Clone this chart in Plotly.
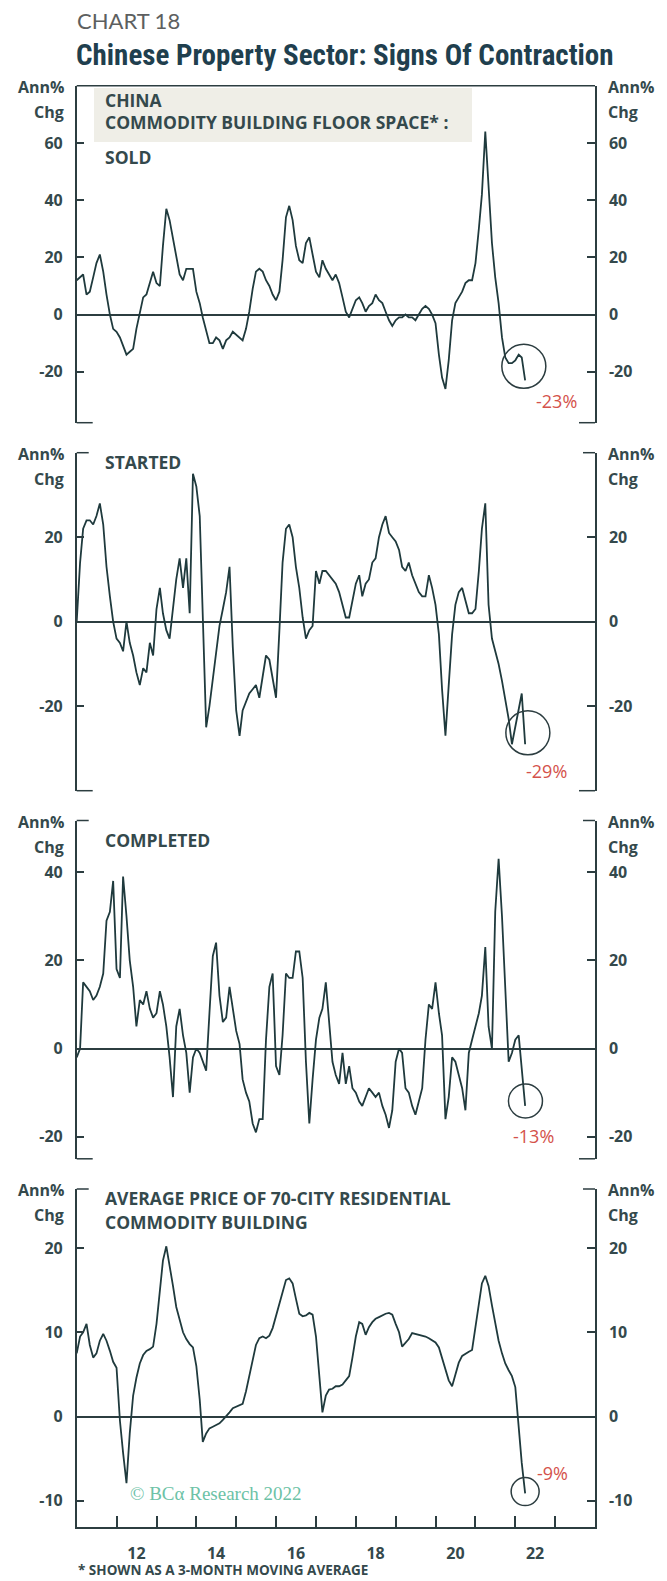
import plotly.graph_objects as go
import pandas as pd

# ---------------- data (annual % change, monthly, Jan 2011 - Apr 2022) ----------------
months = pd.date_range("2011-01-01", periods=136, freq="MS")

sold = [12, 13, 14, 7, 8, 13, 18, 21, 15, 7, 0, -5,
        -6, -8, -11, -14, -13, -12, -5, 0, 6, 7, 11, 15,
        11, 10, 24, 37, 33, 27, 20, 14, 12, 16, 16, 16,
        8, 4, -1, -6, -10, -10, -8, -9, -12, -9, -8, -6,
        -7, -8, -9, -5, 1, 9, 15, 16, 15, 12, 10, 7,
        5, 8, 19, 34, 38, 33, 24, 19, 18, 25, 27, 21,
        15, 13, 19, 16, 14, 12, 14, 11, 6, 1, -1, 2,
        5, 6, 4, 1, 3, 4, 7, 5, 4, 1, -2, -4,
        -2, -1, -1, 0, -1, -1, -2, 0, 2, 3, 2, 0,
        -3, -14, -22, -26, -16, -2, 4, 6, 8, 11, 12, 12,
        18, 30, 42, 64, 45, 25, 13, 4, -8, -15, -17, -17,
        -16, -14, -15, -23]

started = [0, 14, 22, 24, 24, 23, 25, 28, 23, 13, 6, 0,
           -4, -5, -7, 0, -5, -8, -12, -15, -11, -12, -5, -8,
           3, 8, 2, -2, -4, 3, 10, 15, 8, 15, 2, 35,
           32, 25, 0, -25, -20, -14, -7, -1, 3, 7, 13, -6,
           -21, -27, -21, -19, -17, -16, -15, -18, -13, -8, -9, -14,
           -18, -2, 14, 22, 23, 20, 13, 8, 1, -4, -2, -1,
           12, 9, 12, 12, 11, 10, 9, 7, 4, 1, 1, 5,
           9, 11, 6, 9, 10, 14, 15, 20, 23, 25, 21, 20,
           19, 17, 13, 12, 14, 11, 9, 7, 6, 6, 11, 8,
           4, -3, -16, -27, -15, -3, 4, 7, 8, 5, 2, 2,
           3, 12, 22, 28, 4, -4, -7, -10, -14, -18, -23, -29,
           -25, -21, -17, -29]

completed = [-2, 0, 15, 14, 13, 11, 12, 14, 17, 29, 31, 38,
             18, 16, 39, 30, 20, 14, 5, 11, 10, 13, 9, 7,
             8, 13, 10, 5, -2, -11, 5, 9, 3, -1, -10, -2,
             0, -1, -3, -5, 8, 21, 24, 12, 6, 7, 14, 9,
             4, 1, -7, -10, -12, -17, -19, -16, -16, 2, 14, 17,
             -4, -6, 3, 17, 16, 16, 22, 22, 16, -3, -17, -7,
             2, 7, 9, 15, 6, -3, -6, -8, -1, -8, -4, -9,
             -10, -12, -13, -11, -9, -10, -11, -10, -13, -15, -18, -14,
             -3, 0, -1, -9, -10, -13, -15, -12, -9, 2, 10, 9,
             15, 8, 3, -16, -11, -2, -3, -6, -9, -14, -1, 2,
             5, 8, 12, 23, 5, 0, 31, 43, 30, 12, -3, -1,
             2, 3, -4, -13]

price = [7.5, 9.5, 10, 11, 8.5, 7, 7.5, 9, 9.8, 9, 7.8, 6.5,
         5.8, -0.5, -4.3, -7.9, -2, 2.5, 4.6, 6.3, 7.3, 7.8, 8, 8.3,
         11, 15, 18.5, 20.2, 18, 15.5, 13, 11.5, 10, 9.2, 8.6, 8.2,
         6, 2, -3, -2, -1.4, -1.2, -1, -0.8, -0.4, 0, 0.5, 1,
         1.2, 1.3, 1.5, 3, 4.8, 6.8, 8.5, 9.3, 9.5, 9.3, 9.6, 10.5,
         12, 13.4, 15, 16.2, 16.4, 15.8, 14, 12.2, 11.9, 12, 12.3, 12.1,
         9.5, 5, 0.5, 2.5, 3.2, 3.3, 3.6, 3.6, 3.8, 4.3, 4.8, 7,
         9.5, 11.2, 11, 9.7, 10.6, 11.2, 11.6, 11.8, 12, 12.2, 12.3, 12.1,
         11, 10, 8.3, 8.8, 9.2, 9.9, 9.8, 9.7, 9.6, 9.5, 9.3, 9.1,
         8.8, 8.2, 7, 5.8, 4.3, 3.6, 5, 6.4, 7.2, 7.5, 7.7, 7.9,
         10.5, 13.5, 15.8, 16.7, 15.5, 13.2, 11, 9, 7.5, 6.3, 5.5, 4.8,
         3.5, -1.5, -5.5, -9.1]

series = [sold, started, completed, price]

panel_ticks = [[-20, 0, 20, 40, 60], [-20, 0, 20], [-20, 0, 20, 40], [-10, 0, 10, 20]]
latest_labels = ["-23%", "-29%", "-13%", "-9%"]

year_boundaries = [f"{y}-01-01" for y in range(2012, 2024)]
label_years = [2012, 2014, 2016, 2018, 2020, 2022]
x_tick_text = [str(y)[2:] for y in label_years]

# ---------------- layout geometry / styles ----------------
W, H = 667, 1581
def px(p):
    return p / W
def py(p):
    return 1 - p / H

X_LEFT, X_RIGHT = 76.7, 595.0
panel_px = [(85.7, 422.7), (452.7, 790.7), (820.5, 1158.8), (1189.0, 1527.0)]
panel_ranges = [[-37.8, 80], [-40, 40], [-25, 51.7], [-13.1, 27]]

LINE = "#1f3a3d"
AX = "#2c3d40"
TXT = "#34494c"
RED = "#d4524b"
FONT = "Open Sans, Roboto, sans-serif"

fig = go.Figure()
x_dom = [px(X_LEFT), px(X_RIGHT)]
x_range = ["2011-01-01", "2024-01-01"]

for i in range(4):
    n = i + 1
    xa = "x" if n == 1 else f"x{n}"
    ya = "y" if n == 1 else f"y{n}"
    fig.add_trace(go.Scatter(x=months, y=series[i], mode="lines",
                             line=dict(color=LINE, width=1.8),
                             xaxis=xa, yaxis=ya, showlegend=False,
                             hoverinfo="x+y"))
    # empty trace on the right-side axis so it gets drawn
    fig.add_trace(go.Scatter(x=[None], y=[None], xaxis=xa, yaxis=f"y{n+4}",
                             showlegend=False, hoverinfo="skip"))
    top, bot = panel_px[i]
    ydom = [py(bot), py(top)]
    common_y = dict(domain=ydom, range=panel_ranges[i], showline=True,
                    linecolor=AX, linewidth=1.5, ticks="inside", ticklen=8,
                    tickwidth=1.5, tickcolor=AX, tickvals=panel_ticks[i],
                    ticktext=[str(v) for v in panel_ticks[i]],
                    tickfont=dict(family=FONT, size=16, color=TXT, weight="bold"),
                    showgrid=False, fixedrange=True, ticklabelstandoff=9)
    fig.layout[f"yaxis{n}"] = dict(anchor=xa, zeroline=True, zerolinecolor=AX,
                                   zerolinewidth=1.5, **common_y)
    fig.layout[f"yaxis{n+4}"] = dict(anchor=xa, overlaying=ya, side="right",
                                     zeroline=False, **common_y)
    if n < 4:
        fig.layout[f"xaxis{n}"] = dict(domain=x_dom, range=x_range, type="date",
                                       anchor=ya, visible=False, fixedrange=True)
    else:
        fig.layout[f"xaxis{n}"] = dict(
            domain=x_dom, range=x_range, type="date", anchor=ya,
            showline=True, linecolor=AX, linewidth=1.5, ticks="inside", ticklen=0,
            tickvals=[f"{y}-07-01" for y in label_years], ticktext=x_tick_text,
            tickfont=dict(family=FONT, size=16, color=TXT, weight="bold"),
            ticklabelstandoff=11, showgrid=False, zeroline=False, fixedrange=True,
            minor=dict(tickmode="array", tickvals=year_boundaries, ticks="inside",
                       ticklen=11, tickwidth=1.5, tickcolor=AX, showgrid=False))

shapes = []
def hline(x0, x1, y, w=1.5):
    shapes.append(dict(type="line", xref="paper", yref="paper",
                       x0=px(x0), x1=px(x1), y0=py(y), y1=py(y),
                       line=dict(color=AX, width=w)))

# panel brackets
for i, (top, bot) in enumerate(panel_px):
    if i == 0:
        hline(X_LEFT, X_RIGHT, top)
    else:
        hline(X_LEFT, X_LEFT + 12, top)
        hline(X_RIGHT - 12, X_RIGHT, top)
    if i < 3:
        hline(X_LEFT, X_LEFT + 16, bot)
        hline(X_RIGHT - 16, X_RIGHT, bot)

# beige header box of panel 1
shapes.append(dict(type="rect", xref="paper", yref="paper", layer="below",
                   x0=px(94), x1=px(472), y0=py(142), y1=py(88),
                   fillcolor="#efeee7", line=dict(width=0)))

# circles around latest readings
circles = [("2022-03-20", -18.1, 22), ("2022-04-26", -26.3, 22),
           ("2022-04-04", -11.9, 17), ("2022-04-01", -8.9, 14)]
for i, (cx, cy, r) in enumerate(circles):
    n = i + 1
    shapes.append(dict(type="circle", xref="x" if n == 1 else f"x{n}",
                       yref="y" if n == 1 else f"y{n}",
                       xsizemode="pixel", ysizemode="pixel", xanchor=cx, yanchor=cy,
                       x0=-r, x1=r, y0=-r, y1=r, line=dict(color=AX, width=1.5)))

ann = []
def text(t, x, y, size=16, color=TXT, xanchor="left", yanchor="middle",
         weight="bold", family=FONT):
    ann.append(dict(text=t, x=px(x), y=py(y), xref="paper", yref="paper",
                    xanchor=xanchor, yanchor=yanchor, showarrow=False,
                    font=dict(family=family, size=size, color=color, weight=weight)))

text("CHART 18", 75, 20, size=22, color="#5d5f60", weight="normal",
     family="Lato, Roboto, sans-serif")
text("Chinese Property Sector: Signs Of Contraction", 74, 55, size=29,
     color="#1f3f4e", weight="bold",
     family="Liberation Sans Narrow, Roboto Condensed, DejaVu Sans Condensed, sans-serif")

for top, _ in panel_px:
    text("Ann%", 66, top + 1, xanchor="right")
    text("Chg", 66, top + 26, xanchor="right")
    text("Ann%", 606, top + 1)
    text("Chg", 606, top + 26)

LBL = 17.5
text("CHINA", 103, 100, size=LBL)
text("COMMODITY BUILDING FLOOR SPACE* :", 103, 122, size=LBL)
text("SOLD", 103, 157, size=LBL)
text("STARTED", 103, 462, size=LBL)
text("COMPLETED", 103, 840, size=LBL)
text("AVERAGE PRICE OF 70-CITY RESIDENTIAL", 103, 1198, size=LBL)
text("COMMODITY BUILDING", 103, 1222, size=LBL)

text("© BCα Research 2022", 128, 1493, size=19, color="#6cc2a6", weight="normal",
     family="Liberation Serif, DejaVu Serif, serif")
text("* SHOWN AS A 3-MONTH MOVING AVERAGE", 76, 1581, size=13.5, yanchor="bottom")

label_pos = [("2023-01-10", -30.3), ("2022-10-12", -35.4),
             ("2022-06-17", -19.9), ("2022-12-08", -6.7)]
for i, ((lx, ly), lab) in enumerate(zip(label_pos, latest_labels)):
    n = i + 1
    ann.append(dict(text=lab, x=lx, y=ly, xref="x" if n == 1 else f"x{n}",
                    yref="y" if n == 1 else f"y{n}", showarrow=False,
                    xanchor="center", yanchor="middle",
                    font=dict(family=FONT, size=18, color=RED)))

fig.update_layout(width=W, height=H, margin=dict(l=0, r=0, t=0, b=0),
                  paper_bgcolor="white", plot_bgcolor="rgba(0,0,0,0)",
                  shapes=shapes, annotations=ann, showlegend=False)

fig.write_html("out.html", config={"displayModeBar": False},
               post_script="document.body.style.margin='0';")
